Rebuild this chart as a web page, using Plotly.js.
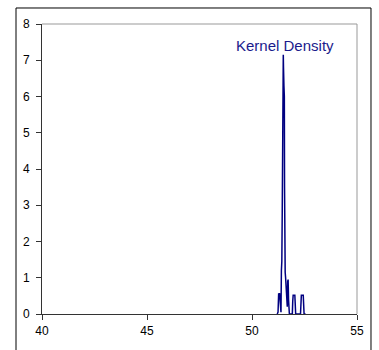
<!DOCTYPE html>
<html>
<head>
<meta charset="utf-8">
<script src="https://cdn.plot.ly/plotly-3.0.1.min.js"></script>
<style>html,body{margin:0;padding:0;background:#fff;}#chart{width:379px;height:350px;}</style>
</head>
<body>
<div id="chart"></div>
<script>
const xValues = [51.20, 51.24, 51.26, 51.27, 51.29, 51.31, 51.33, 51.35, 51.38, 51.40, 51.42, 51.44, 51.46, 51.48, 51.49, 51.50, 51.52, 51.54, 51.55, 51.56, 51.58, 51.60, 51.62, 51.64, 51.66, 51.68, 51.70, 51.72, 51.74, 51.76, 51.78, 51.80, 51.92, 51.94, 51.96, 52.04, 52.06, 52.08, 52.31, 52.33, 52.35, 52.44, 52.46, 52.48, 52.55];
const density = [0.00, 0.05, 0.40, 0.57, 0.45, 0.58, 0.35, 0.10, 0.05, 1.20, 1.45, 2.80, 5.00, 5.30, 7.15, 6.80, 6.30, 6.00, 3.50, 1.25, 1.15, 1.00, 0.80, 0.65, 0.30, 0.20, 0.90, 0.95, 0.40, 0.05, 0.00, 0.00, 0.00, 0.35, 0.52, 0.52, 0.35, 0.00, 0.00, 0.35, 0.52, 0.52, 0.35, 0.00, 0.00];
const xTicks = [40, 45, 50, 55];
const yTicks = [0, 1, 2, 3, 4, 5, 6, 7, 8];
const seriesName = "Kernel Density";

const font = {family: "Liberation Sans, Arial, sans-serif", size: 12, color: "#000"};

Plotly.newPlot("chart", [{
  x: xValues, y: density, type: "scatter", mode: "lines",
  line: {color: "#000080", width: 1.5}, name: seriesName, showlegend: false
}], {
  width: 379, height: 350,
  margin: {l: 42, r: 22, t: 24, b: 36},
  paper_bgcolor: "#fff", plot_bgcolor: "#fff",
  font: font,
  xaxis: {range: [40, 55], tickvals: xTicks, ticktext: xTicks.map(String), showgrid: false, zeroline: false,
    showline: true, linecolor: "#333", linewidth: 1, ticks: "outside", ticklen: 5, tickcolor: "#333", tickfont: font,
    ticklabelstandoff: 1},
  yaxis: {range: [0, 8], tickvals: yTicks, ticktext: yTicks.map(String), showgrid: false, zeroline: false,
    showline: true, linecolor: "#333", linewidth: 1, ticks: "outside", ticklen: 5, tickcolor: "#333", tickfont: font,
    ticklabelstandoff: 4},
  shapes: [
    {type: "line", xref: "paper", yref: "paper", x0: 0, x1: 1, y0: 1, y1: 1, line: {color: "#999", width: 1}},
    {type: "line", xref: "paper", yref: "paper", x0: 1, x1: 1, y0: 0, y1: 1, line: {color: "#999", width: 1}},
    {type: "rect", xref: "paper", yref: "paper", x0: -0.0825, x1: 1.0444, y0: -0.14, y1: 1.0552, line: {color: "#000", width: 1}}
  ],
  annotations: [{
    text: seriesName, xref: "x", yref: "paper", x: 51.55, y: (314 - 45) / 290, showarrow: false,
    xanchor: "center", yanchor: "middle",
    font: {family: "Liberation Sans, Arial, sans-serif", size: 15, color: "#1a1a8c"}
  }]
}, {displayModeBar: false, staticPlot: true});
</script>
</body>
</html>
